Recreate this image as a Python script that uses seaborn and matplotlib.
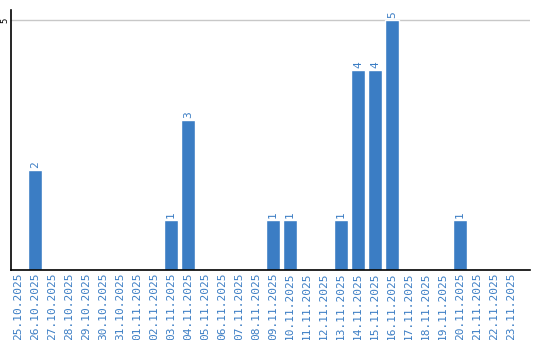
import matplotlib
matplotlib.use("Agg")
import matplotlib.pyplot as plt
import seaborn as sns
import pandas as pd

dates = ["25.10.2025", "26.10.2025", "27.10.2025", "28.10.2025", "29.10.2025",
         "30.10.2025", "31.10.2025", "01.11.2025", "02.11.2025", "03.11.2025",
         "04.11.2025", "05.11.2025", "06.11.2025", "07.11.2025", "08.11.2025",
         "09.11.2025", "10.11.2025", "11.11.2025", "12.11.2025", "13.11.2025",
         "14.11.2025", "15.11.2025", "16.11.2025", "17.11.2025", "18.11.2025",
         "19.11.2025", "20.11.2025", "21.11.2025", "22.11.2025", "23.11.2025"]
counts = [0, 2, 0, 0, 0, 0, 0, 0, 0, 1,
          3, 0, 0, 0, 0, 1, 1, 0, 0, 1,
          4, 4, 5, 0, 0, 0, 1, 0, 0, 0]

sns.set_style("white")
plt.rcParams['font.family'] = ['DejaVu Sans Mono', 'DejaVu Sans']

blue = "#3b7dc4"
df = pd.DataFrame({"date": dates, "count": counts})

fig = plt.figure(figsize=(5.4, 3.4), dpi=100)
ax = fig.add_axes([11/540, 70/340, 519/540, 260/340])
sns.barplot(data=df, x="date", y="count", color=blue, width=0.82, ax=ax,
            saturation=1, order=dates)

ax.set_xlim(-0.41, 30.12)
ax.set_ylim(0, 5.2)
ax.set_yticks([5])
ax.set_yticklabels(["5"], rotation=90, va="center", fontsize=6.5, color="black")
ax.yaxis.grid(True, color="#c8c8c8", linewidth=1)
ax.set_axisbelow(True)
ax.tick_params(axis="y", length=0, pad=1)
ax.tick_params(axis="x", length=0, pad=2)
ax.set_xticks(range(len(dates)))
ax.set_xticklabels(dates, rotation=90, fontsize=8, color=blue)
ax.set_xlabel("")
ax.set_ylabel("")
for s in ["top", "right"]:
    ax.spines[s].set_visible(False)
for s in ["left", "bottom"]:
    ax.spines[s].set_color("black")
    ax.spines[s].set_linewidth(1.2)

for i, v in enumerate(counts):
    if v > 0:
        ax.text(i, v + 0.05, str(v), rotation=90, ha="center", va="bottom",
                fontsize=8, color=blue)

fig.savefig("out.png", dpi=100)
